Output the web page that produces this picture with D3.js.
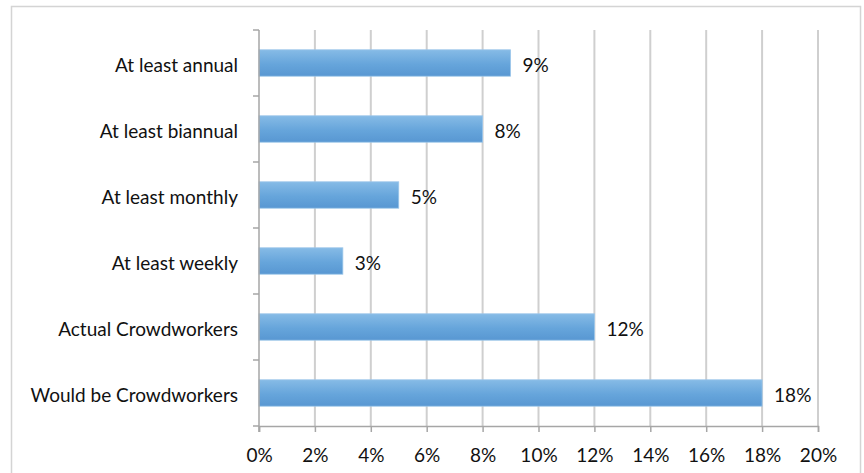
<!DOCTYPE html>
<html>
<head>
<meta charset="utf-8">
<script src="https://cdn.jsdelivr.net/npm/d3@7"></script>
<style>
  body { margin: 0; background: #fff; }
  svg text { font-family: Lato, "Open Sans", sans-serif; fill: #111; }
</style>
</head>
<body>
<div id="chart"></div>
<script>
// data, top to bottom
const categories = [
	'At least annual',
	'At least biannual',
	'At least monthly',
	'At least weekly',
	'Actual Crowdworkers',
	'Would be Crowdworkers'
];
const values = [9, 8, 5, 3, 12, 18];
const xTicks = [0, 2, 4, 6, 8, 10, 12, 14, 16, 18, 20];

const width = 864;
const height = 473;
const margin = { top: 30, right: 45, bottom: 47, left: 259 };
const fontSize = '19px';

const svg = d3.select('#chart')
	.append('svg')
	.attr('width', width)
	.attr('height', height);

// outer frame
svg.append('rect')
	.attr('x', 11.5)
	.attr('y', 6.5)
	.attr('width', 849)
	.attr('height', 480)
	.attr('fill', 'none')
	.attr('stroke', '#d4d4d4')
	.attr('stroke-width', 1.5);

const grad = svg.append('defs')
	.append('linearGradient')
	.attr('id', 'barFill')
	.attr('x1', 0).attr('y1', 0)
	.attr('x2', 0).attr('y2', 1);
grad.append('stop').attr('offset', '0%').attr('stop-color', '#86bbe6');
grad.append('stop').attr('offset', '55%').attr('stop-color', '#66a5db');
grad.append('stop').attr('offset', '100%').attr('stop-color', '#5897d2');

const xScale = d3.scaleLinear()
	.domain([0, 20])
	.range([margin.left, width - margin.right - 1]);

const yScale = d3.scaleBand()
	.domain(categories)
	.range([margin.top, height - margin.bottom])
	.paddingInner(0.6)
	.paddingOuter(0.3);

const plotBottom = height - margin.bottom;

// vertical gridlines
svg.append('g')
	.selectAll('line')
	.data(xTicks.slice(1))
	.enter()
	.append('line')
	.attr('x1', d => xScale(d))
	.attr('x2', d => xScale(d))
	.attr('y1', margin.top)
	.attr('y2', plotBottom)
	.attr('stroke', '#cfcfcf')
	.attr('stroke-width', 2);

// bars
svg.selectAll('rect.bar')
	.data(values)
	.enter()
	.append('rect')
	.attr('class', 'bar')
	.attr('x', xScale(0))
	.attr('y', (d, i) => yScale(categories[i]))
	.attr('width', d => xScale(d) - xScale(0))
	.attr('height', yScale.bandwidth())
	.attr('fill', 'url(#barFill)')
	.attr('stroke', '#9cc6ea')
	.attr('stroke-width', 0.8);

// value labels
svg.selectAll('text.value')
	.data(values)
	.enter()
	.append('text')
	.attr('class', 'value')
	.attr('x', d => xScale(d) + 12)
	.attr('y', (d, i) => yScale(categories[i]) + yScale.bandwidth() / 2)
	.attr('dy', '0.45em')
	.style('font-size', fontSize)
	.text(d => d + '%');

// x axis
const xAxis = d3.axisBottom(xScale)
	.tickValues(xTicks)
	.tickSize(6)
	.tickPadding(17)
	.tickFormat(d => d + '%');

const gx = svg.append('g')
	.attr('transform', `translate(0, ${plotBottom})`)
	.call(xAxis);
gx.select('.domain').attr('stroke', '#a6a6a6').attr('stroke-width', 1.5);
gx.selectAll('.tick line').attr('stroke', '#a6a6a6').attr('stroke-width', 1.5);
gx.selectAll('.tick text')
	.style('font-size', fontSize)
	.attr('fill', '#111');

// y axis: ticks at band boundaries
const step = (plotBottom - margin.top) / categories.length;
const bounds = d3.range(categories.length + 1).map(i => margin.top + i * step);

const gy = svg.append('g');
gy.append('line')
	.attr('x1', xScale(0)).attr('x2', xScale(0))
	.attr('y1', margin.top).attr('y2', plotBottom + 6)
	.attr('stroke', '#a6a6a6')
	.attr('stroke-width', 1.5);
gy.selectAll('line.ytick')
	.data(bounds)
	.enter()
	.append('line')
	.attr('class', 'ytick')
	.attr('x1', xScale(0) - 6).attr('x2', xScale(0))
	.attr('y1', d => d).attr('y2', d => d)
	.attr('stroke', '#a6a6a6')
	.attr('stroke-width', 1.5);

gy.selectAll('text')
	.data(categories)
	.enter()
	.append('text')
	.attr('x', xScale(0) - 21)
	.attr('y', d => yScale(d) + yScale.bandwidth() / 2)
	.attr('dy', '0.45em')
	.attr('text-anchor', 'end')
	.style('font-size', fontSize)
	.text(d => d);
</script>
</body>
</html>
